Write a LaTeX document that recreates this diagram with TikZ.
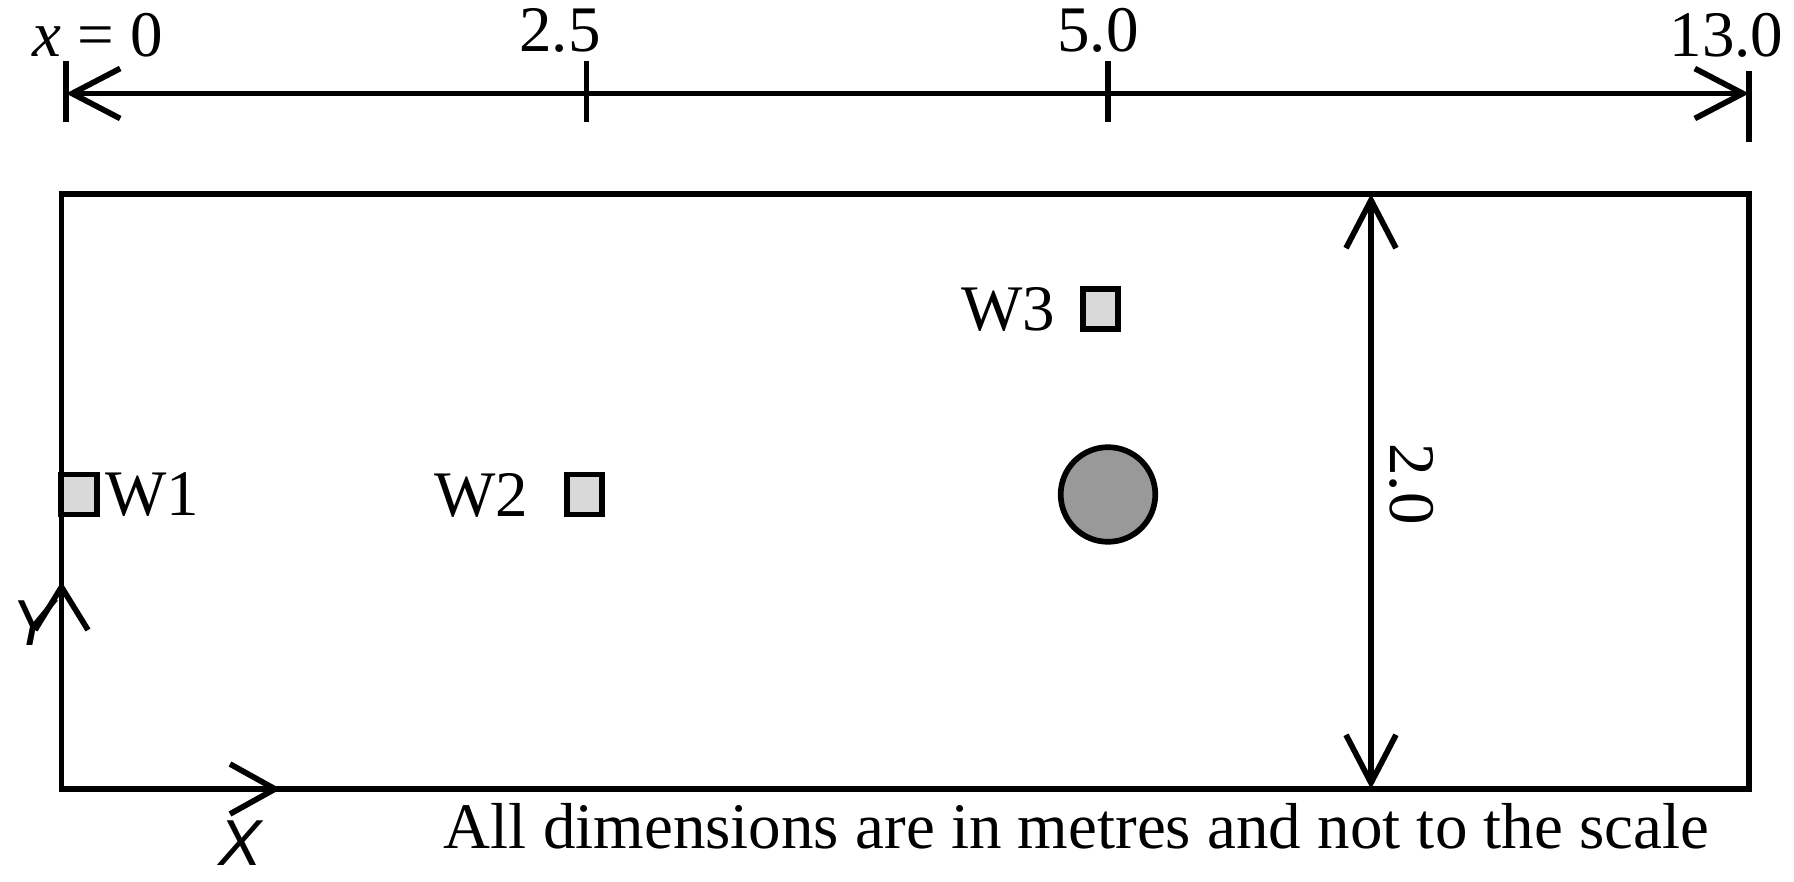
\documentclass[tikz,border=0pt]{standalone}
\usepackage{fontspec}
\setmainfont{Liberation Serif}
\newfontfamily\axisfont{Liberation Sans}
\usetikzlibrary{arrows.meta}
\definecolor{wellgray}{HTML}{D9D9D9}
\definecolor{pilegray}{HTML}{999999}
\begin{document}
\begin{tikzpicture}[x=0.5pt,y=-0.5pt,line width=2.85pt,
  every node/.style={inner sep=0pt,outer sep=0pt,font=\fontsize{32.5}{39}\selectfont},
  barb/.tip={Straight Barb[length=24pt,width=25pt]},
  dimarrow/.style={barb-barb},
  well/.style={draw,fill=wellgray,minimum width=17.8pt,minimum height=20pt},
  pile/.style={draw,circle,fill=pilegray,minimum size=47.3pt},
  axislabel/.style={font=\fontsize{32.5}{39}\axisfont\itshape}]
\useasboundingbox (0,0) rectangle (1794,882);
% domain
\coordinate (TL) at (61.5,194);
\coordinate (BR) at (1749,789);
% wells on the boundary drawn first
\node[well] (w1) at (79,494.5) {};
\draw (TL) rectangle (BR);
% top dimension line
\coordinate (d0) at (66,93.5);
\coordinate (d13) at (1749,93.5);
\draw[dimarrow] (d0) -- (d13);
\draw (66,61) -- (66,122);
\draw (586.5,61) -- (586.5,122);
\draw (1108,61) -- (1108,122);
\draw (1749,71) -- (1749,142);
\node (x0) at (97.5,35) {\textit{x} = 0};
\node (l25) at (560,30) {2.5};
\node (l50) at (1098,30) {5.0};
\node (l13) at (1726.5,35) {13.0};
% vertical dimension
\coordinate (v1) at (1371,194);
\coordinate (v2) at (1371,789);
\draw[dimarrow] (v1) -- (v2);
\node[rotate=-90] (l20) at (1412,484) {2.0};
% wells
\node (w1l) at (152,495) {W1};
\node[well] (w2) at (584.5,494.5) {};
\node (w2l) at (481,495) {W2};
\node[well] (w3) at (1100.5,309) {};
\node (w3l) at (1008,309) {W3};
\node[pile] (c) at (1108,494.5) {};
% axes arrowheads
\draw (230,764) -- (275,789) -- (230,814);
\draw (35,630) -- (61.5,587) -- (88,630);
\node[axislabel] (Y) at (33,623) {Y};
\node[axislabel] (X) at (240,843) {X};
% note
\node[anchor=base] (note) at (1076.5,848) {All dimensions are in metres and not to the scale};
\end{tikzpicture}
\end{document}
